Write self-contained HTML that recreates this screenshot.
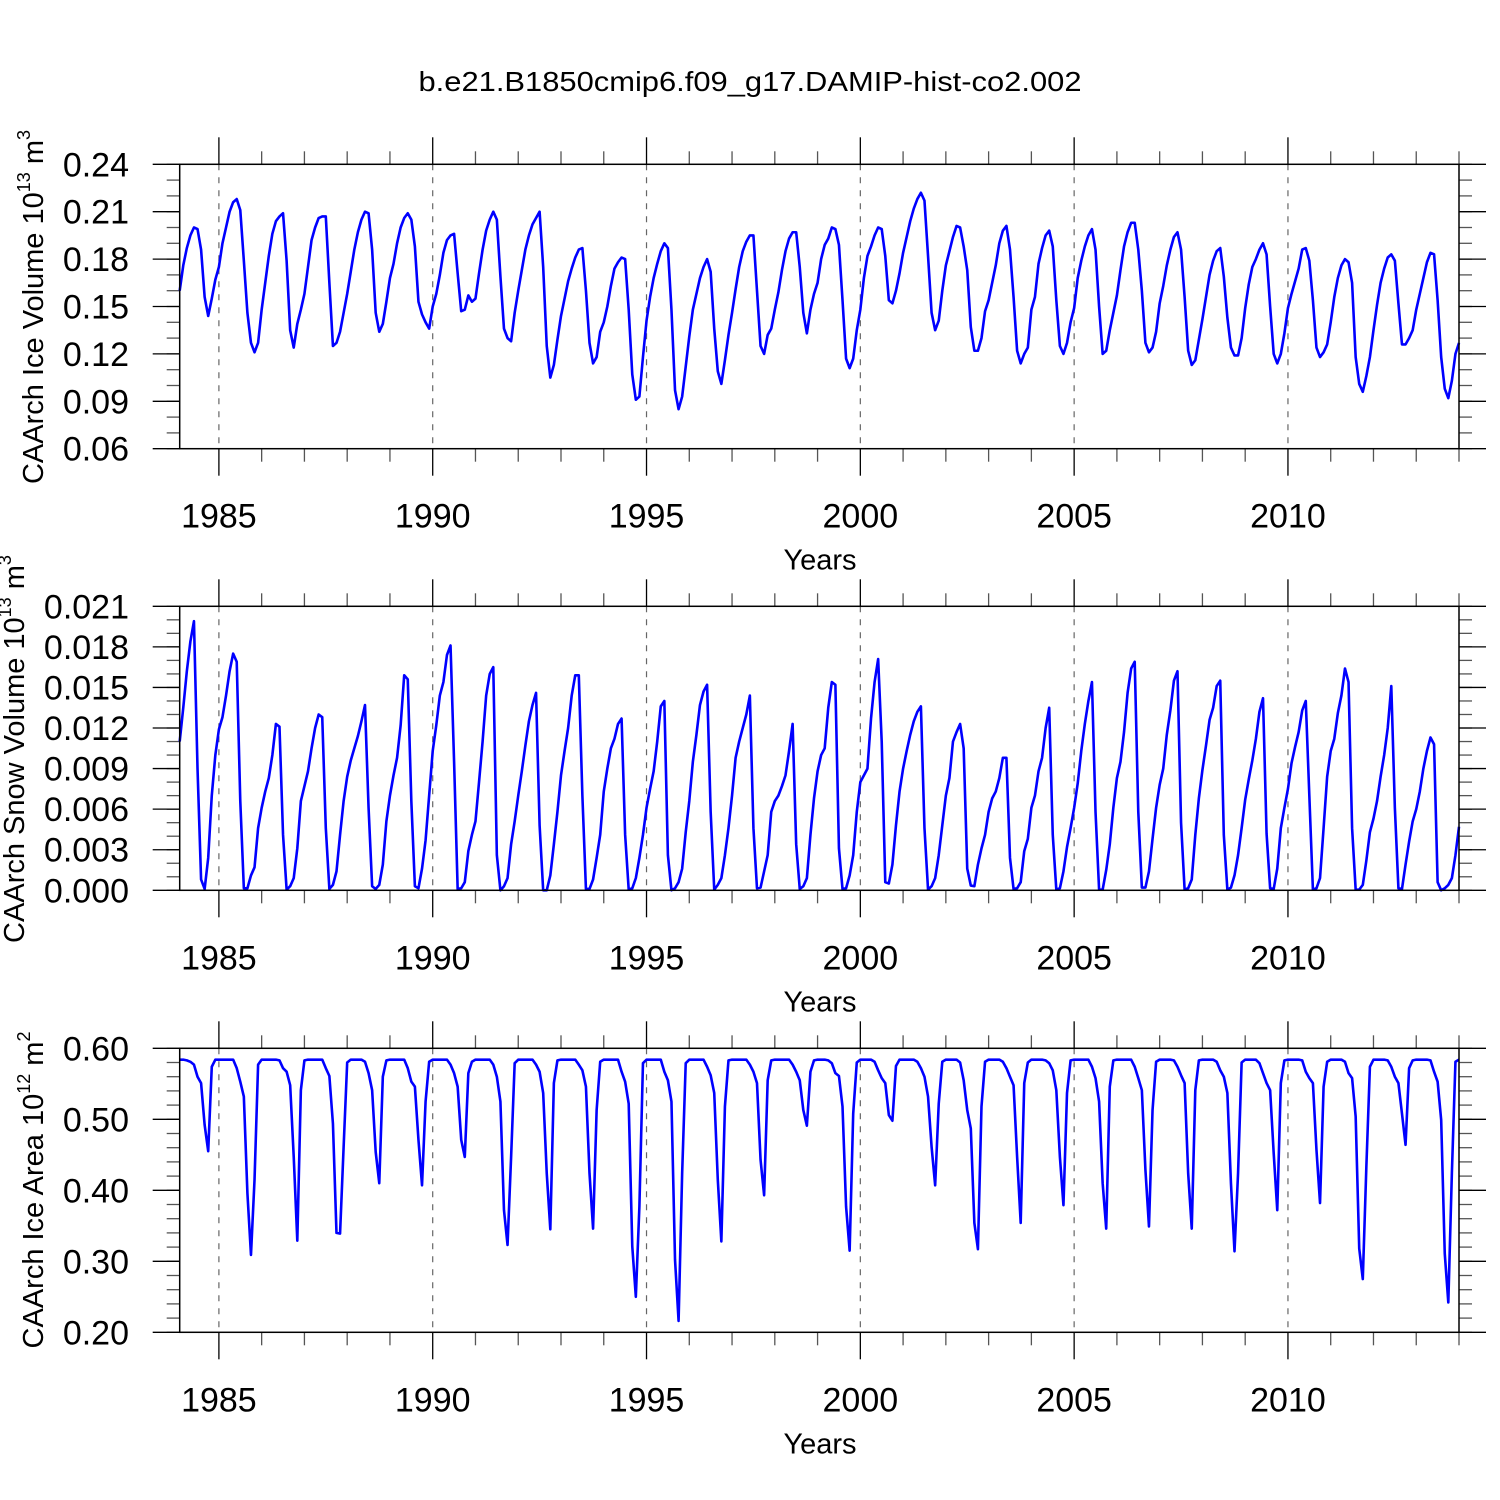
<!DOCTYPE html>
<html><head><meta charset="utf-8"><title>CAArch timeseries</title>
<style>
html,body{margin:0;padding:0;background:#fff;}
svg{display:block;font-family:"Liberation Sans",Arial,sans-serif;}
</style></head>
<body>
<svg id="chart" width="1500" height="1500" viewBox="0 0 1500 1500" xmlns="http://www.w3.org/2000/svg">
<rect x="0" y="0" width="1500" height="1500" fill="#fff"/>
<text x="750" y="91" font-size="28" text-anchor="middle" textLength="663" lengthAdjust="spacingAndGlyphs">b.e21.B1850cmip6.f09_g17.DAMIP-hist-co2.002</text>
</svg>
<script>
const startYear = 1984;
const nMonths = 360;
const xTickYears = [1985, 1990, 1995, 2000, 2005, 2010];
const xTickLabels = ["1985", "1990", "1995", "2000", "2005", "2010"];

const iceVolume = [
.160,.176,.187,.195,.200,.199,.186,.156,.144,.155,.167,.175,
.190,.200,.210,.216,.218,.211,.179,.146,.127,.121,.127,.148,
.165,.182,.196,.204,.207,.209,.179,.135,.124,.139,.148,.158,
.175,.192,.200,.206,.207,.207,.165,.125,.127,.134,.146,.158,
.172,.186,.197,.205,.210,.209,.186,.146,.134,.139,.153,.168,
.177,.190,.200,.206,.209,.205,.188,.153,.145,.140,.136,.150,
.158,.170,.184,.192,.195,.196,.171,.147,.148,.157,.153,.155,
.171,.186,.198,.205,.210,.205,.169,.136,.130,.128,.146,.160,
.173,.186,.195,.202,.206,.210,.175,.125,.105,.113,.129,.144,
.155,.166,.174,.181,.186,.187,.160,.127,.114,.118,.134,.140,
.150,.163,.174,.178,.181,.180,.148,.107,.091,.093,.118,.141,
.156,.168,.177,.185,.190,.187,.148,.097,.085,.093,.112,.131,
.148,.158,.168,.175,.180,.172,.136,.109,.101,.116,.132,.146,
.161,.175,.185,.191,.195,.195,.160,.125,.120,.132,.136,.148,
.159,.173,.185,.193,.197,.197,.175,.146,.133,.148,.158,.165,
.180,.189,.193,.200,.199,.189,.154,.117,.111,.117,.135,.148,
.168,.182,.188,.195,.200,.199,.182,.154,.152,.160,.171,.184,
.194,.204,.212,.218,.222,.217,.182,.146,.135,.141,.160,.176,
.185,.194,.201,.200,.188,.173,.137,.122,.122,.130,.147,.154,
.165,.176,.190,.198,.201,.186,.156,.122,.114,.120,.124,.148,
.156,.177,.187,.195,.198,.188,.154,.125,.120,.127,.140,.149,
.168,.179,.188,.195,.199,.186,.150,.120,.122,.135,.146,.157,
.173,.188,.197,.203,.203,.186,.160,.127,.121,.124,.134,.152,
.163,.176,.186,.194,.197,.186,.156,.122,.113,.116,.129,.142,
.156,.170,.179,.185,.187,.169,.143,.124,.119,.119,.130,.149,
.164,.175,.180,.186,.190,.183,.150,.120,.114,.120,.133,.149,
.158,.166,.174,.186,.187,.179,.154,.124,.118,.121,.126,.140,
.156,.168,.176,.180,.178,.165,.118,.101,.096,.106,.118,.135,
.151,.165,.174,.181,.183,.179,.152,.126,.126,.130,.135,.148,
.158,.168,.178,.184,.183,.154,.118,.098,.092,.103,.120,.127];

const snowVolumeE3 = [
11.0,13.5,16.2,18.4,19.9,9.0,0.8,0.1,2.4,7.0,10.0,11.9,
12.8,14.4,16.2,17.5,16.9,6.6,0.15,0.15,1.1,1.7,4.6,6.1,
7.3,8.3,10.0,12.3,12.1,4.1,0.05,0.3,0.9,3.1,6.6,7.7,
8.8,10.5,12.0,13.0,12.8,4.6,0.1,0.4,1.4,4.1,6.6,8.4,
9.6,10.5,11.4,12.5,13.7,6.1,0.3,0.1,0.4,1.9,5.1,7.0,
8.5,9.8,12.2,15.9,15.6,6.6,0.3,0.15,1.6,3.7,7.0,10.3,
12.2,14.4,15.4,17.4,18.1,9.5,0.1,0.15,0.6,2.9,4.1,5.1,
8.0,11.0,14.4,16.0,16.5,2.6,0.0,0.3,0.9,3.4,5.1,7.0,
8.8,10.7,12.5,13.7,14.6,4.8,0.0,0.0,1.1,3.4,5.8,8.5,
10.3,12.0,14.4,15.9,15.9,7.0,0.1,0.1,0.8,2.4,4.1,7.3,
9.0,10.5,11.2,12.3,12.7,4.1,0.05,0.15,0.9,2.4,4.1,6.1,
7.5,8.8,11.0,13.6,14.0,2.6,0.0,0.15,0.6,1.6,4.3,6.6,
9.5,11.5,13.7,14.7,15.2,5.8,0.05,0.4,0.9,2.6,4.6,7.0,
9.8,11.0,12.0,13.0,14.4,4.6,0.15,0.2,1.4,2.6,5.8,6.6,
7.0,7.7,8.5,10.3,12.3,3.4,0.1,0.3,0.9,4.1,6.8,8.8,
10.0,10.5,13.5,15.4,15.2,3.1,0.1,0.15,1.1,2.6,5.8,8.0,
8.5,9.0,12.7,15.4,17.1,11.0,0.6,0.5,1.9,4.8,7.3,9.0,
10.3,11.5,12.5,13.2,13.6,4.6,0.05,0.3,0.9,2.6,4.8,7.0,
8.3,11.0,11.7,12.3,10.5,1.6,0.35,0.3,1.9,3.1,4.1,5.8,
6.8,7.3,8.3,9.8,9.8,2.4,0.1,0.15,0.6,2.9,3.8,6.1,
7.0,8.8,9.8,12.0,13.5,4.1,0.05,0.15,1.4,3.2,4.6,6.1,
7.9,10.3,12.3,14.0,15.4,5.8,0.05,0.05,1.5,3.4,6.1,8.3,
9.5,11.7,14.6,16.4,16.9,5.8,0.2,0.2,1.4,3.8,6.1,7.8,
9.0,11.5,13.3,15.5,16.2,5.0,0.05,0.15,0.8,4.1,6.8,8.9,
10.7,12.6,13.5,15.1,15.5,4.1,0.05,0.2,1.1,2.6,4.6,6.7,
8.2,9.6,11.2,13.2,14.2,4.2,0.15,0.1,1.6,4.6,6.1,7.5,
9.4,10.6,11.7,13.3,14.0,7.0,0.05,0.15,0.9,4.6,8.4,10.3,
11.2,13.1,14.4,16.4,15.4,4.6,0.05,0.05,0.4,2.2,4.3,5.3,
6.6,8.4,10.0,12.0,15.1,6.1,0.15,0.1,1.9,3.6,5.1,6.0,
7.3,9.0,10.3,11.3,10.8,0.6,0.0,0.15,0.4,0.9,2.6,4.7];

const iceArea = [
.584,.584,.583,.581,.577,.560,.551,.492,.455,.574,.584,.584,
.584,.584,.584,.584,.572,.553,.532,.396,.309,.415,.577,.584,
.584,.584,.584,.584,.583,.572,.567,.548,.447,.329,.541,.583,
.584,.584,.584,.584,.584,.572,.561,.494,.340,.339,.461,.580,
.584,.584,.584,.584,.581,.565,.541,.454,.410,.560,.583,.584,
.584,.584,.584,.584,.572,.553,.546,.471,.407,.525,.581,.584,
.584,.584,.584,.584,.577,.565,.546,.471,.447,.565,.581,.584,
.584,.584,.584,.584,.577,.560,.525,.372,.323,.447,.579,.584,
.584,.584,.584,.584,.577,.567,.537,.424,.345,.551,.583,.584,
.584,.584,.584,.584,.577,.569,.546,.424,.346,.513,.581,.584,
.584,.584,.584,.584,.567,.553,.522,.321,.250,.377,.579,.584,
.584,.584,.584,.584,.567,.555,.525,.302,.216,.424,.579,.584,
.584,.584,.584,.584,.574,.562,.537,.415,.328,.518,.583,.584,
.584,.584,.584,.584,.577,.567,.551,.443,.393,.555,.583,.584,
.584,.584,.584,.584,.577,.567,.555,.513,.491,.567,.583,.584,
.584,.584,.583,.579,.565,.561,.518,.377,.315,.508,.580,.584,
.584,.584,.584,.581,.569,.558,.551,.506,.498,.575,.584,.584,
.584,.584,.584,.581,.572,.560,.532,.461,.407,.522,.581,.584,
.584,.584,.584,.580,.555,.513,.487,.354,.317,.518,.581,.584,
.584,.584,.584,.581,.572,.560,.548,.447,.354,.551,.580,.584,
.584,.584,.584,.583,.579,.569,.541,.447,.379,.537,.583,.584,
.584,.584,.584,.584,.574,.558,.525,.410,.346,.546,.583,.584,
.584,.584,.584,.584,.574,.558,.541,.429,.349,.513,.581,.584,
.584,.584,.584,.583,.574,.562,.551,.424,.346,.541,.583,.584,
.584,.584,.584,.581,.569,.560,.537,.410,.314,.424,.580,.584,
.584,.584,.584,.579,.565,.551,.541,.452,.372,.551,.583,.584,
.584,.584,.584,.583,.567,.558,.551,.457,.382,.546,.581,.584,
.584,.584,.584,.581,.565,.558,.504,.318,.275,.433,.574,.584,
.584,.584,.584,.583,.574,.560,.551,.508,.464,.572,.583,.584,
.584,.584,.584,.583,.567,.553,.499,.311,.242,.424,.581,.584];

const iceVolTicks = [0.06, 0.09, 0.12, 0.15, 0.18, 0.21, 0.24];
const iceVolTickLabels = ["0.06","0.09","0.12","0.15","0.18","0.21","0.24"];
const snowTicks = [0, 0.003, 0.006, 0.009, 0.012, 0.015, 0.018, 0.021];
const snowTickLabels = ["0.000","0.003","0.006","0.009","0.012","0.015","0.018","0.021"];
const areaTicks = [0.2, 0.3, 0.4, 0.5, 0.6];
const areaTickLabels = ["0.20","0.30","0.40","0.50","0.60"];

const NS = "http://www.w3.org/2000/svg";
const svg = document.getElementById("chart");
const X0 = 179.7, X1 = 1459;
const xMin = startYear + 1/12, xMax = startYear + nMonths/12;
function xScale(t){ return X0 + (t - xMin) / (xMax - xMin) * (X1 - X0); }

function mk(tag, attrs, parent){
  const e = document.createElementNS(NS, tag);
  for (const k in attrs) e.setAttribute(k, attrs[k]);
  (parent || svg).appendChild(e);
  return e;
}

function panel(o){
  const g = mk("g", {});
  
  
  const top = o.top, bot = o.bot;
  const yS = v => bot - (v - o.yMin) / (o.yMax - o.yMin) * (bot - top);
  xTickYears.forEach(yr => {
    const x = xScale(yr);
    const l = mk("line", {x1:x, x2:x, y1:top, y2:bot, stroke:"#666", "stroke-width":1.2, "stroke-dasharray":"6,7"}, g);
    
    
  });
  for (let yr = 1984; yr <= 2014; yr++){
    const x = xScale(yr);
    if (x < X0 - 0.5 || x > X1 + 0.5) continue;
    const major = yr % 5 === 0;
    const len = major ? 27 : 13;
    mk("line", {x1:x, x2:x, y1:top, y2:top-len, stroke:major?"#000":"#555", "stroke-width":1.3}, g);
    mk("line", {x1:x, x2:x, y1:bot, y2:bot+len, stroke:major?"#000":"#555", "stroke-width":1.3}, g);
  }
  const nMin = Math.round((o.yMax - o.yMin)/o.minor);
  for (let k = 0; k <= nMin; k++){
    const y = yS(o.yMin + k*o.minor);
    mk("line", {x1:X0, x2:X0-13, y1:y, y2:y, stroke:"#555", "stroke-width":1.3}, g);
    mk("line", {x1:X1, x2:X1+13, y1:y, y2:y, stroke:"#555", "stroke-width":1.3}, g);
  }
  o.ticks.forEach((v, k) => {
    const y = yS(v);
    mk("line", {x1:X0, x2:X0-27, y1:y, y2:y, stroke:"#000", "stroke-width":1.3}, g);
    mk("line", {x1:X1, x2:X1+27, y1:y, y2:y, stroke:"#000", "stroke-width":1.3}, g);
    const t = mk("text", {x:129, y:y+12, "font-size":34, "text-anchor":"end"}, g);
    t.textContent = o.tickLabels[k];
    
    
  });
  xTickYears.forEach((yr, k) => {
    const t = mk("text", {x:xScale(yr), y:bot+79, "font-size":34, "text-anchor":"middle"}, g);
    t.textContent = xTickLabels[k];
    
    
  });
  const xt = mk("text", {x:820, y:bot+121, "font-size":29, "text-anchor":"middle"}, g);
  xt.textContent = "Years";
  
  
  const yt = mk("text", {x:0, y:0, "font-size":29, "text-anchor":"middle",
    transform:"translate(" + o.titleX + "," + o.titleY + ") rotate(-90)"}, g);
  
  
  const s1 = mk("tspan", {}, yt); s1.textContent = o.title + " 10";
  const s2 = mk("tspan", {dy:-13, "font-size":18}, yt); s2.textContent = o.exp;
  const s3 = mk("tspan", {dy:13}, yt); s3.textContent = " m";
  const s4 = mk("tspan", {dy:-13, "font-size":18}, yt); s4.textContent = o.unitExp;
  let d = "";
  o.values.forEach((v, i) => {
    const t = startYear + (i + 1)/12;
    d += (i ? "L" : "M") + xScale(t).toFixed(2) + "," + yS(v * o.scale).toFixed(2);
  });
  const p = mk("path", {d:d, fill:"none", stroke:"#0000ff", "stroke-width":2.6, "stroke-linejoin":"round"}, g);
  
  
  const fr = mk("rect", {x:X0, y:top, width:X1-X0, height:bot-top, fill:"none", stroke:"#000", "stroke-width":1.5}, g);
  
  
}

panel({name:"ice-volume-panel", seriesName:"ice-volume-line", top:164.3, bot:448.7, yMin:0.06, yMax:0.24, minor:0.01,
  ticks:iceVolTicks, tickLabels:iceVolTickLabels, values:iceVolume, scale:1,
  title:"CAArch Ice Volume", exp:"13", unitExp:"3", titleX:43, titleY:307});
panel({name:"snow-volume-panel", seriesName:"snow-volume-line", top:606.3, bot:890.3, yMin:0, yMax:0.021, minor:0.001,
  ticks:snowTicks, tickLabels:snowTickLabels, values:snowVolumeE3, scale:0.001,
  title:"CAArch Snow Volume", exp:"13", unitExp:"3", titleX:24, titleY:749});
panel({name:"ice-area-panel", seriesName:"ice-area-line", top:1048.3, bot:1332.3, yMin:0.2, yMax:0.6, minor:0.02,
  ticks:areaTicks, tickLabels:areaTickLabels, values:iceArea, scale:1,
  title:"CAArch Ice Area", exp:"12", unitExp:"2", titleX:43, titleY:1190});
</script>
</body></html>
